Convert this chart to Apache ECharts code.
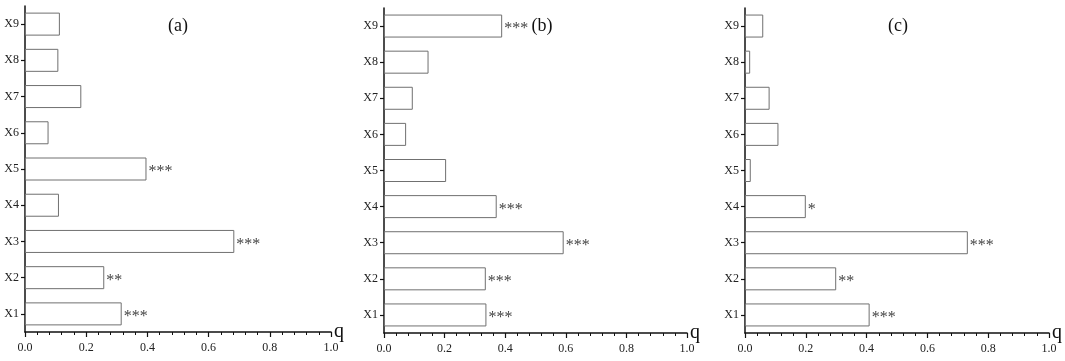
<!DOCTYPE html>
<html>
<head>
<meta charset="utf-8">
<script src="https://cdn.jsdelivr.net/npm/echarts@6/dist/echarts.min.js"></script>
<style>
  html, body { margin: 0; padding: 0; background: #fff; }
  #chart { width: 1065px; height: 361px; }
</style>
</head>
<body>
<div id="chart"></div>
<script>
const categories = ['X1', 'X2', 'X3', 'X4', 'X5', 'X6', 'X7', 'X8', 'X9'];
const xTicks = [0, 0.2, 0.4, 0.6, 0.8, 1.0];

const panelTitles = ['(a)', '(b)', '(c)'];

const qA = [0.316, 0.259, 0.684, 0.111, 0.397, 0.077, 0.184, 0.109, 0.114];
const sigA = ['***', '**', '***', '', '***', '', '', '', ''];

const qB = [0.338, 0.336, 0.593, 0.372, 0.205, 0.073, 0.095, 0.147, 0.390];
const sigB = ['***', '***', '***', '***', '', '', '', '', '***'];

const qC = [0.410, 0.300, 0.733, 0.200, 0.019, 0.110, 0.081, 0.017, 0.060];
const sigC = ['***', '**', '***', '*', '', '', '', '', ''];

const panels = [
    { q: qA, sig: sigA, grid: { left: 25, top: 6, width: 306, height: 326 }, titleX: 173 },
    { q: qB, sig: sigB, grid: { left: 384, top: 8, width: 303, height: 325 }, titleX: 537 },
    { q: qC, sig: sigC, grid: { left: 745, top: 8, width: 306, height: 325 }, titleX: 893 }
];

const serif = '"Liberation Serif", "DejaVu Serif", serif';

const chart = echarts.init(document.getElementById('chart'));

const option = {
    backgroundColor: '#ffffff',
    animation: false,
    title: panels.map((p, i) => ({
        text: panelTitles[i],
        left: p.titleX,
        top: 12,
        textAlign: 'center',
        textStyle: { fontFamily: serif, fontSize: 18, fontWeight: 'normal', color: '#111' }
    })),
    grid: panels.map(p => p.grid),
    xAxis: panels.map((p, i) => ({
        type: 'value',
        gridIndex: i,
        min: xTicks[0],
        max: xTicks[xTicks.length - 1],
        interval: 0.2,
        name: 'q',
        nameLocation: 'end',
        nameGap: 3,
        nameTextStyle: { fontFamily: serif, fontSize: 20, color: '#111', padding: [0, 0, 6, 0] },
        axisLine: { show: true, lineStyle: { color: '#111', width: 1.5 } },
        axisTick: { show: true, length: 5, lineStyle: { color: '#111', width: 1.2 } },
        minorTick: { show: true, splitNumber: 5, length: 3, lineStyle: { color: '#111', width: 1 } },
        splitLine: { show: false },
        axisLabel: {
            margin: 10,
            fontFamily: serif,
            fontSize: 12,
            color: '#222',
            formatter: v => v.toFixed(1)
        }
    })),
    yAxis: panels.map((p, i) => ({
        type: 'category',
        gridIndex: i,
        data: categories,
        axisLine: { show: true, lineStyle: { color: '#111', width: 1.5 } },
        axisTick: { show: true, alignWithLabel: true, length: 4, lineStyle: { color: '#111', width: 1.2 } },
        axisLabel: { margin: 6, fontFamily: serif, fontSize: 12, color: '#222' },
        splitLine: { show: false }
    })),
    series: panels.map((p, i) => ({
        type: 'bar',
        xAxisIndex: i,
        yAxisIndex: i,
        data: p.q,
        barWidth: 23,
        itemStyle: { color: '#ffffff', borderColor: '#707070', borderWidth: 1 },
        label: {
            show: true,
            position: 'right',
            distance: 2,
            offset: [0, 3],
            fontFamily: serif,
            fontSize: 16,
            color: '#444',
            formatter: params => p.sig[params.dataIndex]
        }
    }))
};

chart.setOption(option);
</script>
</body>
</html>
